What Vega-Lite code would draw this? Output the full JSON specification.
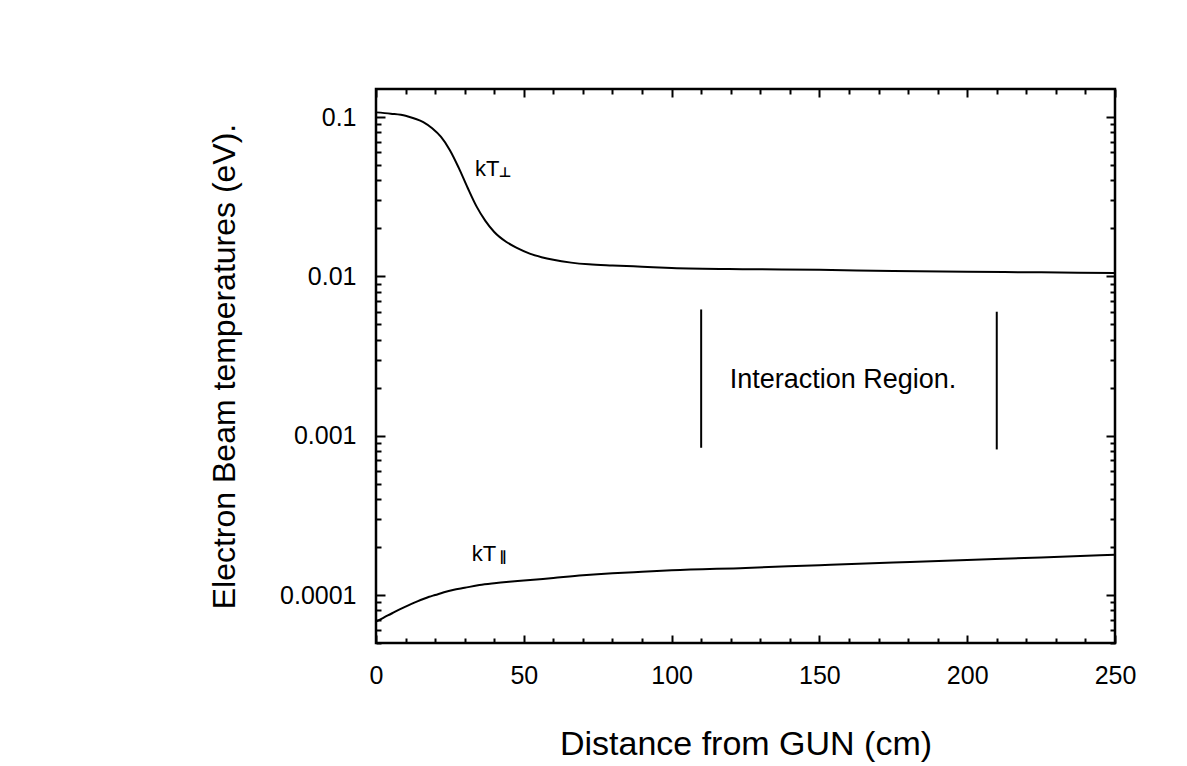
{
  "$schema": "https://vega.github.io/schema/vega-lite/v6.json",
  "width": 739,
  "height": 554,
  "autosize": "none",
  "padding": {"left": 376, "top": 89, "right": 72, "bottom": 123},
  "background": "white",
  "config": {
    "font": "Liberation Sans",
    "view": {"stroke": "black", "strokeWidth": 2.5},
    "axis": {
      "domain": false,
      "grid": false,
      "tickColor": "black",
      "tickWidth": 2,
      "labelFont": "Liberation Sans",
      "labelFontSize": 25,
      "labelColor": "black",
      "titleFont": "Liberation Sans",
      "titleFontWeight": "normal",
      "titleColor": "black"
    }
  },
  "datasets": {
    "curves": [
      {"series": "perp", "x": 0, "y": 0.107},
      {"series": "perp", "x": 5, "y": 0.105},
      {"series": "perp", "x": 10, "y": 0.102},
      {"series": "perp", "x": 13, "y": 0.098},
      {"series": "perp", "x": 16, "y": 0.093},
      {"series": "perp", "x": 19, "y": 0.085},
      {"series": "perp", "x": 22, "y": 0.075},
      {"series": "perp", "x": 25, "y": 0.062},
      {"series": "perp", "x": 28, "y": 0.048},
      {"series": "perp", "x": 31, "y": 0.036},
      {"series": "perp", "x": 34, "y": 0.0275},
      {"series": "perp", "x": 37, "y": 0.0223},
      {"series": "perp", "x": 40, "y": 0.019},
      {"series": "perp", "x": 44, "y": 0.0165},
      {"series": "perp", "x": 48, "y": 0.015},
      {"series": "perp", "x": 52, "y": 0.0139},
      {"series": "perp", "x": 56, "y": 0.0132},
      {"series": "perp", "x": 60, "y": 0.0127},
      {"series": "perp", "x": 66, "y": 0.0122},
      {"series": "perp", "x": 72, "y": 0.0119},
      {"series": "perp", "x": 80, "y": 0.0117},
      {"series": "perp", "x": 90, "y": 0.0115},
      {"series": "perp", "x": 100, "y": 0.0113},
      {"series": "perp", "x": 125, "y": 0.0111},
      {"series": "perp", "x": 150, "y": 0.011},
      {"series": "perp", "x": 175, "y": 0.0108},
      {"series": "perp", "x": 200, "y": 0.0107},
      {"series": "perp", "x": 225, "y": 0.0106},
      {"series": "perp", "x": 250, "y": 0.0105},
      {"series": "par", "x": 0, "y": 0.000068},
      {"series": "par", "x": 2, "y": 0.0000712},
      {"series": "par", "x": 4, "y": 0.0000745},
      {"series": "par", "x": 6, "y": 0.0000778},
      {"series": "par", "x": 8, "y": 0.0000812},
      {"series": "par", "x": 10, "y": 0.0000846},
      {"series": "par", "x": 12, "y": 0.000088},
      {"series": "par", "x": 14, "y": 0.0000913},
      {"series": "par", "x": 16, "y": 0.0000945},
      {"series": "par", "x": 18, "y": 0.0000975},
      {"series": "par", "x": 20, "y": 0.0001},
      {"series": "par", "x": 23, "y": 0.000104},
      {"series": "par", "x": 26, "y": 0.0001075},
      {"series": "par", "x": 30, "y": 0.000111},
      {"series": "par", "x": 35, "y": 0.0001155},
      {"series": "par", "x": 40, "y": 0.0001185},
      {"series": "par", "x": 45, "y": 0.000121},
      {"series": "par", "x": 50, "y": 0.0001232},
      {"series": "par", "x": 60, "y": 0.000128},
      {"series": "par", "x": 70, "y": 0.000133},
      {"series": "par", "x": 80, "y": 0.000137},
      {"series": "par", "x": 90, "y": 0.00014},
      {"series": "par", "x": 100, "y": 0.000143},
      {"series": "par", "x": 125, "y": 0.000148},
      {"series": "par", "x": 150, "y": 0.000154},
      {"series": "par", "x": 175, "y": 0.00016},
      {"series": "par", "x": 200, "y": 0.000166},
      {"series": "par", "x": 225, "y": 0.000172},
      {"series": "par", "x": 250, "y": 0.000179}
    ],
    "region": [
      {"x": 110, "y": 0.00084, "y2": 0.0062},
      {"x": 210, "y": 0.00082, "y2": 0.006}
    ],
    "labels": [
      {"x": 33.5, "y": 0.0475, "text": "kT"},
      {"x": 32.4, "y": 0.000182, "text": "kT"}
    ],
    "subs": [
      {"x": 41.5, "y": 0.0446, "text": "⊥"},
      {"x": 41.8, "y": 0.000173, "text": "∥"}
    ],
    "note": [
      {"x": 158, "y": 0.00225, "text": "Interaction Region."}
    ]
  },
  "resolve": {"axis": {"x": "independent", "y": "independent"}},
  "layer": [
    {
      "data": {"name": "curves"},
      "mark": {"type": "line", "color": "black", "strokeWidth": 2, "interpolate": "monotone"},
      "encoding": {
        "x": {
          "field": "x", "type": "quantitative",
          "scale": {"domain": [0, 250], "nice": false, "zero": false},
          "axis": {
            "orient": "bottom",
            "values": [0, 10, 20, 30, 40, 50, 60, 70, 80, 90, 100, 110, 120, 130, 140, 150, 160, 170, 180, 190, 200, 210, 220, 230, 240, 250],
            "labelExpr": "datum.value % 50 == 0 ? datum.label : ''",
            "tickSize": {"condition": {"test": "datum.value % 50 == 0", "value": -8}, "value": -5},
            "labelPadding": 28,
            "labelFlush": false,
            "labelOverlap": false,
            "title": "Distance from GUN (cm)",
            "titleFontSize": 34,
            "titlePadding": 36
          }
        },
        "y": {
          "field": "y", "type": "quantitative",
          "scale": {"type": "log", "domain": [0.00005, 0.15], "nice": false},
          "axis": {
            "orient": "left",
            "values": [0.00005, 0.00006, 0.00007, 0.00008, 0.00009, 0.0001, 0.0002, 0.0003, 0.0004, 0.0005, 0.0006, 0.0007, 0.0008, 0.0009, 0.001, 0.002, 0.003, 0.004, 0.005, 0.006, 0.007, 0.008, 0.009, 0.01, 0.02, 0.03, 0.04, 0.05, 0.06, 0.07, 0.08, 0.09, 0.1],
            "format": "~g",
            "labelExpr": "indexof([0.0001, 0.001, 0.01, 0.1], datum.value) >= 0 ? datum.label : ''",
            "tickSize": {"condition": {"test": "indexof([0.0001, 0.001, 0.01, 0.1], datum.value) >= 0", "value": -9}, "value": -5},
            "labelPadding": 29,
            "labelFlush": false,
            "labelOverlap": false,
            "title": "Electron Beam temperatures (eV).",
            "titleFontSize": 32,
            "titlePadding": 38
          }
        },
        "detail": {"field": "series"}
      }
    },
    {
      "data": {"name": "region"},
      "mark": {"type": "rule", "color": "black", "strokeWidth": 2},
      "encoding": {
        "x": {
          "field": "x", "type": "quantitative",
          "scale": {"domain": [0, 250], "nice": false, "zero": false},
          "axis": {
            "orient": "top",
            "values": [0, 10, 20, 30, 40, 50, 60, 70, 80, 90, 100, 110, 120, 130, 140, 150, 160, 170, 180, 190, 200, 210, 220, 230, 240, 250],
            "labels": false,
            "title": null,
            "tickSize": {"condition": {"test": "datum.value % 50 == 0", "value": -8}, "value": -5}
          }
        },
        "y": {
          "field": "y", "type": "quantitative",
          "scale": {"type": "log", "domain": [0.00005, 0.15], "nice": false},
          "axis": {
            "orient": "right",
            "values": [0.00005, 0.00006, 0.00007, 0.00008, 0.00009, 0.0001, 0.0002, 0.0003, 0.0004, 0.0005, 0.0006, 0.0007, 0.0008, 0.0009, 0.001, 0.002, 0.003, 0.004, 0.005, 0.006, 0.007, 0.008, 0.009, 0.01, 0.02, 0.03, 0.04, 0.05, 0.06, 0.07, 0.08, 0.09, 0.1],
            "labels": false,
            "title": null,
            "tickSize": {"condition": {"test": "indexof([0.0001, 0.001, 0.01, 0.1], datum.value) >= 0", "value": -9}, "value": -5}
          }
        },
        "y2": {"field": "y2"}
      }
    },
    {
      "data": {"name": "labels"},
      "mark": {"type": "text", "align": "left", "baseline": "middle", "fontSize": 22, "font": "Liberation Sans", "color": "black"},
      "encoding": {
        "x": {"field": "x", "type": "quantitative", "axis": null},
        "y": {"field": "y", "type": "quantitative", "axis": null},
        "text": {"field": "text"}
      }
    },
    {
      "data": {"name": "subs"},
      "mark": {"type": "text", "align": "left", "baseline": "middle", "fontSize": 14, "fontWeight": "bold", "font": "DejaVu Sans", "color": "black"},
      "encoding": {
        "x": {"field": "x", "type": "quantitative", "axis": null},
        "y": {"field": "y", "type": "quantitative", "axis": null},
        "text": {"field": "text"}
      }
    },
    {
      "data": {"name": "note"},
      "mark": {"type": "text", "align": "center", "baseline": "middle", "fontSize": 27, "font": "Liberation Sans", "color": "black"},
      "encoding": {
        "x": {"field": "x", "type": "quantitative", "axis": null},
        "y": {"field": "y", "type": "quantitative", "axis": null},
        "text": {"field": "text"}
      }
    }
  ]
}
